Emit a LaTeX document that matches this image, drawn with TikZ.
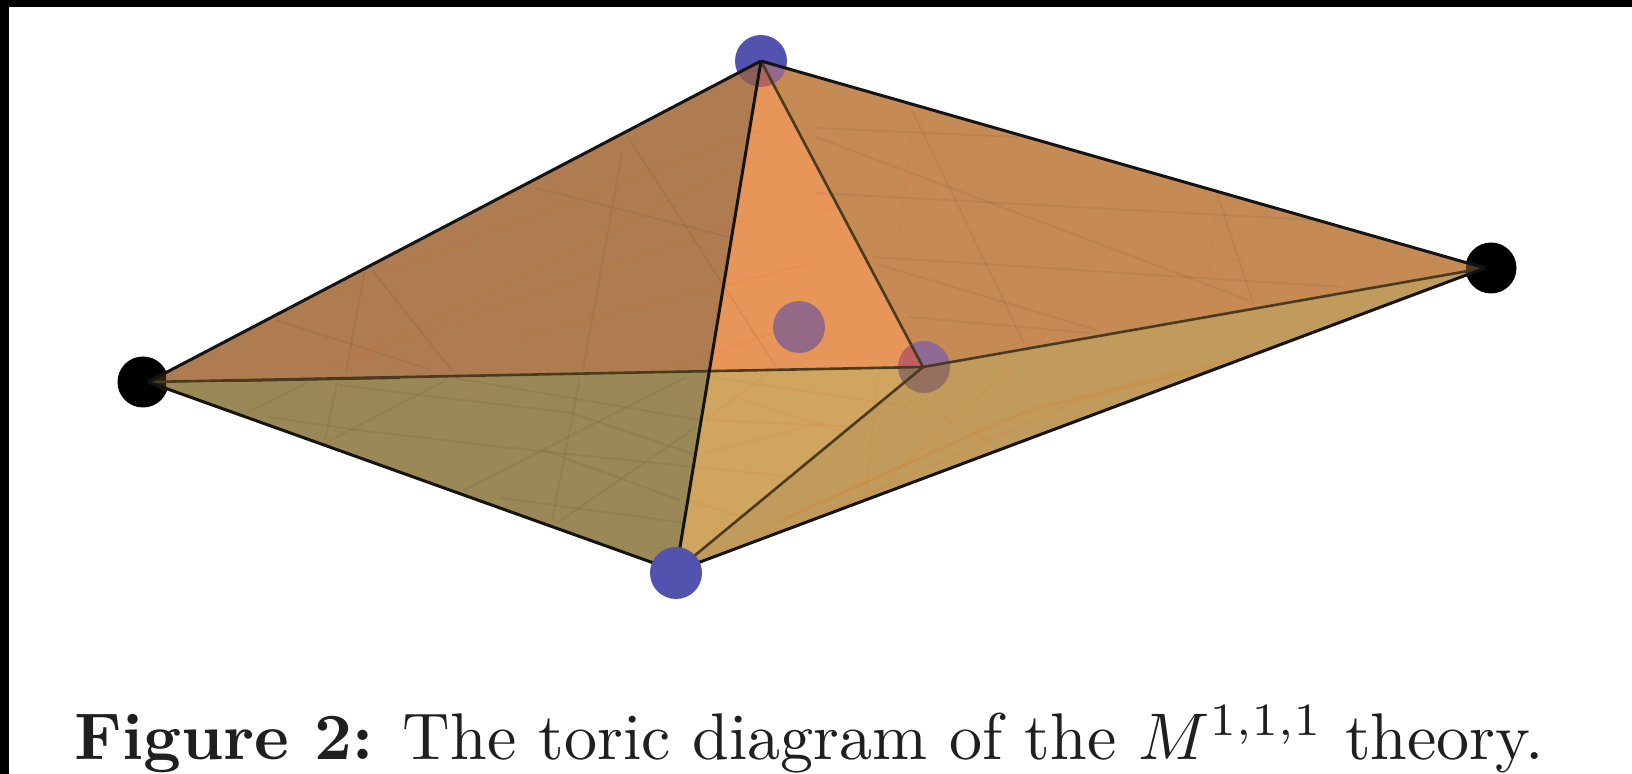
\documentclass[tikz,border=0pt]{standalone}
\usepackage{amsmath,amssymb}
\usepackage{tikz}
\usetikzlibrary{positioning,calc}
\definecolor{facetl}{HTML}{AE7C50}
\definecolor{facetr}{HTML}{C68B55}
\definecolor{facemid}{HTML}{E8955A}
\definecolor{facebl}{HTML}{9A8856}
\definecolor{facebm}{HTML}{CFA560}
\definecolor{facebr}{HTML}{C19B5B}
\definecolor{bluept}{HTML}{5253AE}
\definecolor{midpt}{HTML}{926A85}
\definecolor{innln}{HTML}{4A3A1E}
\tikzset{
  bluedot/.style={circle,fill=bluept,inner sep=0pt,minimum size=26pt},
  blackdot/.style={circle,fill=black,inner sep=0pt,minimum size=25.5pt},
  tintdot/.style={circle,fill=midpt,inner sep=0pt,minimum size=26pt},
  outer/.style={line width=1.5pt,black!92},
  inner/.style={line width=1.3pt,innln},
  meshdk/.style={line width=1pt,black,opacity=0.055},
  meshor/.style={line width=1pt,orange!70!red,opacity=0.09},
  capt/.style={anchor=base west,inner sep=0pt,scale=3.3,text=black!88},
}
\begin{document}
\begin{tikzpicture}[x=0.5pt,y=-0.5pt]
  \useasboundingbox (0,0) rectangle (1632,774);
  \fill[white] (0,0) rectangle (1632,774);
  \fill[black] (0,0) rectangle (1632,7);
  \fill[black] (0,0) rectangle (9,774);
  % vertices of the polytope
  \coordinate (vl) at (148,382);
  \coordinate (vt) at (761,61);
  \coordinate (vr) at (1485,268);
  \coordinate (vb) at (676,571);
  \coordinate (vi) at (923,367);
  \coordinate (vx) at (intersection of vl--vi and vt--vb);
  % back points
  \node[blackdot] (ptl) at (143,382) {};
  \node[blackdot] (ptr) at (1491,268) {};
  \node[bluedot] (ptt) at (761,61) {};
  % faces
  \fill[facetl] (vl)--(vt)--(vx)--cycle;
  \fill[facetr] (vt)--(vr)--(vi)--cycle;
  \fill[facemid] (vt)--(vi)--(vx)--cycle;
  \fill[facebl] (vl)--(vx)--(vb)--cycle;
  \fill[facebm] (vx)--(vi)--(vb)--cycle;
  \fill[facebr] (vi)--(vr)--(vb)--cycle;
  % points seen through the faces
  \node[tintdot] (ptm) at (799,327) {};
  \foreach \fa/\fb/\fc/\tn in {vl/vt/vx/8B5C5A, vt/vi/vx/B5615F, vt/vr/vi/96688A}{
    \begin{scope}
      \clip (\fa)--(\fb)--(\fc)--cycle;
      \definecolor{tintc}{HTML}{\tn}
      \fill[tintc] (761,61) circle (26);
    \end{scope}
  }
  \foreach \fa/\fb/\fc/\tn in {vt/vi/vx/BE6060, vt/vr/vi/8E6A95, vx/vi/vb/96705F, vi/vr/vb/96705F}{
    \begin{scope}
      \clip (\fa)--(\fb)--(\fc)--cycle;
      \definecolor{tintc}{HTML}{\tn}
      \fill[tintc] (924,367) circle (26);
    \end{scope}
  }
  % faint mesh lines
  \foreach \ax/\ay/\bx/\by in {628/137/776/367, 622/153/583/370, 372/270/453/372, 365/270/346/372,
      536/188/729/237, 276/320/432/370, 912/110/1024/343, 1217/193/1253/303, 816/137/1248/300,
      816/193/1316/220, 816/128/1019/137, 873/257/1342/287, 873/263/1097/330, 909/317/1090/333,
      307/383/246/413, 337/383/325/440, 339/385/571/413, 571/413/696/455, 454/378/700/420,
      446/380/325/443, 268/417/357/430, 357/430/529/450, 529/450/696/467, 686/377/464/490,
      580/377/552/520, 696/427/557/523, 543/450/679/500, 500/498/686/523}{
    \draw[meshdk] (\ax,\ay)--(\bx,\by);
  }
  \foreach \ax/\ay/\bx/\by in {323/372/672/200, 672/200/755/160, 286/310/760/130, 338/363/745/220,
      656/372/812/320, 520/337/812/263, 897/250/915/110, 1316/230/1082/317, 1024/143/816/213,
      1207/287/1217/197, 769/373/705/420, 712/377/909/407, 737/397/844/433, 707/420/859/427,
      705/453/823/423, 698/467/794/477, 687/500/741/517, 878/373/866/493, 780/520/1037/407,
      1037/407/1216/367, 741/540/1001/420, 1001/420/1180/370, 1016/363/887/480, 909/400/987/440,
      787/530/1073/403, 1073/403/1300/340}{
    \draw[meshor] (\ax,\ay)--(\bx,\by);
  }
  % tips over the black points
  \fill[black!78!brown] (vl)--(166,371)--(166,392)--cycle;
  \fill[black!55!brown] (vr)--(1466,264)--(1466,277)--cycle;
  % edges
  \draw[inner] (vl)--(vi);
  \fill[innln] (vl)--(400,376)--(400,379)--(235,382)--cycle;
  \draw[inner] (vt)--(vi);
  \draw[inner] (vi)--(vr);
  \draw[inner] (vi)--(vb);
  \draw[outer] (vt)--(vb);
  \draw[outer] (vl)--(vt);
  \draw[outer] (vt)--(vr);
  \draw[outer] (vl)--(vb);
  \draw[outer] (vr)--(vb);
  % front point
  \node[bluedot] (ptb) at (676,573) {};
  % caption
  \coordinate (cap) at (73,759);
  \node[capt] (captext) at (cap) {\textbf{Figure 2:} The toric diagram of the $M^{1,1,1}$ theory.};
\end{tikzpicture}
\end{document}
